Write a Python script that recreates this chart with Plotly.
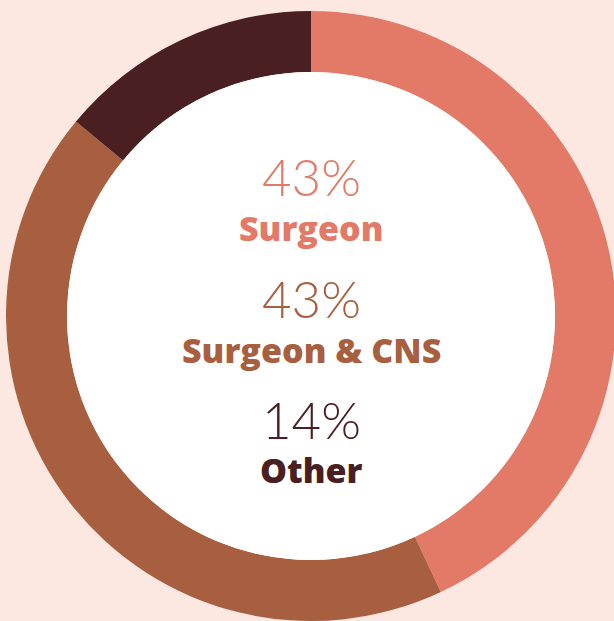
"""Donut chart: who delivers the diagnosis."""

import plotly.graph_objects as go

# ---------------------------------------------------------------------------
# Data
# ---------------------------------------------------------------------------

labels = ["Surgeon", "Surgeon & CNS", "Other"]
values = [43, 43, 14]
colors = ["#E37A68", "#A85F3F", "#4A1F21"]

BG = "#FCE7E1"
# the ring runs slightly past the right edge of the 614px window,
# so the figure is a touch wider and the page clips it
W, H = 618, 621

# donut geometry in pixels
CX, CY = 311, 316
R_OUT, R_IN = 305, 244

fig = go.Figure()
fig.add_trace(go.Pie(
    labels=labels,
    values=values,
    sort=False,
    direction="clockwise",
    rotation=0,
    hole=R_IN / R_OUT,
    marker=dict(colors=colors, line=dict(width=0)),
    textinfo="none",
    hoverinfo="label+percent",
    showlegend=False,
    domain=dict(
        x=[(CX - R_OUT) / W, (CX + R_OUT) / W],
        y=[max(0, (H - CY - R_OUT) / H), (H - CY + R_OUT) / H],
    ),
))

# white centre of the donut
fig.add_shape(
    type="circle", xref="paper", yref="paper",
    x0=(CX - R_IN) / W, x1=(CX + R_IN) / W,
    y0=(H - CY - R_IN) / H, y1=(H - CY + R_IN) / H,
    fillcolor="white", line=dict(width=0), layer="above",
)

# centre labels: percentage + name, stacked
pct_y = [177, 299, 419]
name_y = [228, 350, 470]
for lab, val, col, py, ny in zip(labels, values, colors, pct_y, name_y):
    fig.add_annotation(
        x=311 / W, y=1 - py / H, xref="paper", yref="paper",
        text=f"{val}%", showarrow=False, yanchor="middle",
        font=dict(family="Lato", size=51, color=col, weight=300),
    )
    fig.add_annotation(
        x=311 / W, y=1 - ny / H, xref="paper", yref="paper",
        text=lab, showarrow=False, yanchor="middle",
        font=dict(family="Open Sans", size=34, color=col, weight=800),
    )

fig.update_layout(
    width=W,
    height=H,
    margin=dict(l=0, r=0, t=0, b=0),
    paper_bgcolor=BG,
    plot_bgcolor=BG,
)

fig.write_html(
    "out.html",
    config={"displayModeBar": False},
    post_script=(
        "document.body.style.margin='0';"
        "document.body.style.overflow='hidden';"
        f"document.body.style.background='{BG}';"
    ),
)
